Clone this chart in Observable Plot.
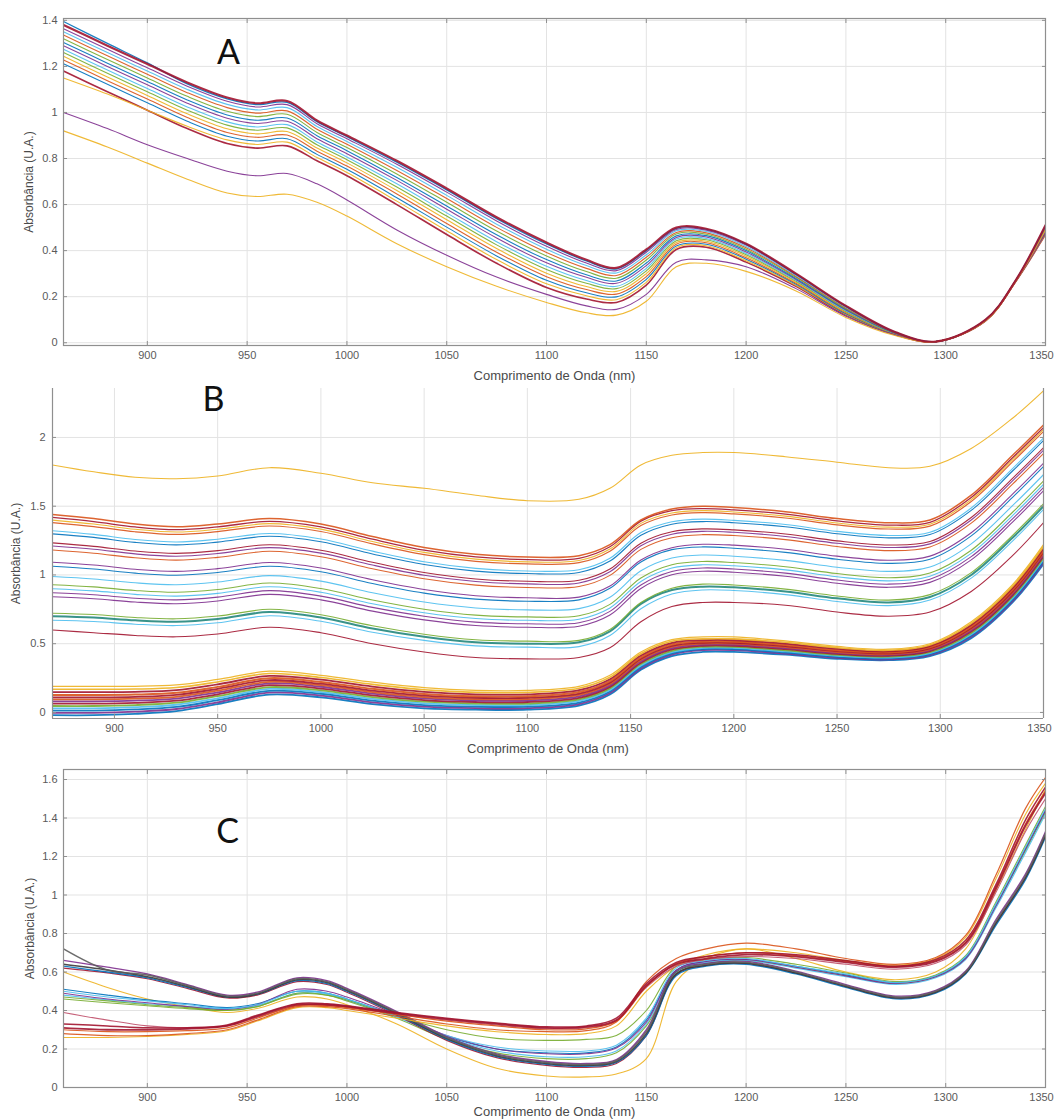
<!DOCTYPE html>
<html><head><meta charset="utf-8">
<script src="https://cdn.jsdelivr.net/npm/d3@7"></script>
<script src="https://cdn.jsdelivr.net/npm/@observablehq/plot@0.6"></script>
<style>
body{margin:0;background:#fff;}
#wrap{position:relative;width:1055px;height:1120px;overflow:hidden;background:#fff;}
</style></head><body><div id="wrap"></div>
<script>
// ---------- shared text / ticks ----------
const xTitle = "Comprimento de Onda (nm)";
const yTitle = "Absorbância (U.A.)";
const xTicks = [900, 950, 1000, 1050, 1100, 1150, 1200, 1250, 1300, 1350];
const yTicksA = [0, 0.2, 0.4, 0.6, 0.8, 1, 1.2, 1.4];
const yTicksB = [0, 0.5, 1, 1.5, 2];
const yTicksC = [0, 0.2, 0.4, 0.6, 0.8, 1, 1.2, 1.4, 1.6];

// ---------- Panel A ----------
const wlA = [858, 880, 900, 920, 940, 955, 970, 985, 1000, 1025, 1050, 1075, 1100, 1120, 1135, 1150, 1165, 1180, 1200, 1225, 1250, 1275, 1295, 1320, 1335, 1350];
const specA = [
  [1.18, 1.09, 1.01, 0.93, 0.865, 0.845, 0.855, 0.79, 0.725, 0.60, 0.47, 0.345, 0.24, 0.19, 0.175, 0.25, 0.405, 0.415, 0.35, 0.245, 0.12, 0.035, 0.004, 0.095, 0.265, 0.47],
  [1.15, 1.08, 1.01, 0.94, 0.881, 0.861, 0.871, 0.804, 0.739, 0.615, 0.486, 0.361, 0.256, 0.204, 0.187, 0.262, 0.413, 0.421, 0.356, 0.249, 0.123, 0.036, 0.004, 0.095, 0.265, 0.473],
  [1.212, 1.122, 1.042, 0.962, 0.897, 0.876, 0.886, 0.818, 0.753, 0.63, 0.502, 0.377, 0.271, 0.217, 0.199, 0.275, 0.42, 0.428, 0.363, 0.254, 0.126, 0.037, 0.004, 0.096, 0.266, 0.476],
  [1.228, 1.138, 1.058, 0.978, 0.913, 0.892, 0.902, 0.832, 0.767, 0.646, 0.518, 0.393, 0.287, 0.231, 0.211, 0.287, 0.428, 0.434, 0.369, 0.258, 0.13, 0.037, 0.004, 0.096, 0.266, 0.48],
  [1.244, 1.154, 1.074, 0.994, 0.929, 0.907, 0.917, 0.846, 0.781, 0.661, 0.534, 0.409, 0.302, 0.244, 0.223, 0.30, 0.435, 0.441, 0.376, 0.263, 0.133, 0.038, 0.005, 0.097, 0.267, 0.483],
  [1.26, 1.17, 1.09, 1.01, 0.945, 0.923, 0.933, 0.86, 0.795, 0.676, 0.55, 0.425, 0.318, 0.258, 0.235, 0.312, 0.443, 0.447, 0.382, 0.267, 0.136, 0.039, 0.005, 0.097, 0.267, 0.486],
  [1.274, 1.184, 1.104, 1.024, 0.959, 0.937, 0.947, 0.872, 0.807, 0.69, 0.564, 0.439, 0.332, 0.27, 0.245, 0.323, 0.45, 0.453, 0.388, 0.271, 0.139, 0.04, 0.005, 0.097, 0.267, 0.489],
  [1.29, 1.20, 1.12, 1.04, 0.975, 0.952, 0.962, 0.886, 0.821, 0.705, 0.58, 0.455, 0.347, 0.284, 0.258, 0.335, 0.457, 0.459, 0.394, 0.275, 0.142, 0.041, 0.005, 0.098, 0.268, 0.492],
  [1.304, 1.214, 1.134, 1.054, 0.989, 0.966, 0.976, 0.899, 0.834, 0.718, 0.594, 0.469, 0.361, 0.295, 0.268, 0.346, 0.464, 0.465, 0.40, 0.279, 0.145, 0.041, 0.005, 0.098, 0.268, 0.495],
  [1.32, 1.23, 1.15, 1.07, 1.005, 0.982, 0.992, 0.913, 0.848, 0.733, 0.61, 0.485, 0.377, 0.309, 0.28, 0.359, 0.472, 0.471, 0.406, 0.284, 0.148, 0.042, 0.005, 0.099, 0.269, 0.498],
  [1.336, 1.246, 1.166, 1.086, 1.021, 0.997, 1.007, 0.927, 0.862, 0.748, 0.626, 0.501, 0.392, 0.323, 0.292, 0.371, 0.479, 0.477, 0.412, 0.288, 0.151, 0.043, 0.005, 0.10, 0.27, 0.501],
  [1.35, 1.26, 1.18, 1.10, 1.035, 1.011, 1.021, 0.939, 0.874, 0.762, 0.64, 0.515, 0.406, 0.335, 0.303, 0.382, 0.486, 0.483, 0.418, 0.292, 0.154, 0.044, 0.005, 0.10, 0.27, 0.504],
  [1.364, 1.274, 1.194, 1.114, 1.049, 1.024, 1.034, 0.951, 0.886, 0.775, 0.654, 0.529, 0.419, 0.346, 0.313, 0.393, 0.492, 0.489, 0.424, 0.296, 0.157, 0.044, 0.005, 0.10, 0.27, 0.507],
  [1.395, 1.30, 1.215, 1.124, 1.059, 1.034, 1.044, 0.96, 0.895, 0.784, 0.664, 0.539, 0.429, 0.355, 0.32, 0.40, 0.497, 0.493, 0.428, 0.298, 0.159, 0.045, 0.005, 0.10, 0.27, 0.509],
  [1.00, 0.93, 0.86, 0.80, 0.745, 0.725, 0.735, 0.69, 0.62, 0.49, 0.38, 0.285, 0.21, 0.16, 0.145, 0.21, 0.35, 0.36, 0.33, 0.235, 0.115, 0.033, 0.004, 0.095, 0.265, 0.48],
  [0.92, 0.85, 0.78, 0.71, 0.65, 0.635, 0.645, 0.61, 0.55, 0.43, 0.33, 0.245, 0.175, 0.13, 0.12, 0.18, 0.33, 0.345, 0.31, 0.225, 0.11, 0.03, 0.004, 0.095, 0.265, 0.49],
  [1.38, 1.29, 1.21, 1.13, 1.065, 1.04, 1.05, 0.965, 0.90, 0.79, 0.67, 0.545, 0.435, 0.36, 0.325, 0.405, 0.50, 0.495, 0.43, 0.30, 0.16, 0.045, 0.005, 0.10, 0.27, 0.51]
];
const colorsA = ["#A2142F", "#EDB120", "#0072BD", "#D95319", "#EDB120", "#77AC30", "#4DBEEE", "#7E2F8E", "#0072BD", "#77AC30", "#D95319", "#4DBEEE", "#7E2F8E", "#0072BD", "#7E2F8E", "#EDB120", "#A2142F"];
const widthsA = [1.6, 1.1, 1.1, 1.1, 1.1, 1.1, 1.1, 1.1, 1.1, 1.1, 1.1, 1.1, 1.1, 1.3, 1.1, 1.1, 2.2];

// ---------- Panel B ----------
const wlB = [870, 890, 910, 930, 950, 975, 1000, 1025, 1050, 1075, 1100, 1125, 1140, 1155, 1170, 1185, 1200, 1225, 1250, 1275, 1295, 1315, 1335, 1350];
const specB = [
  [1.80, 1.75, 1.71, 1.70, 1.72, 1.78, 1.74, 1.67, 1.63, 1.58, 1.54, 1.55, 1.63, 1.80, 1.87, 1.89, 1.89, 1.86, 1.82, 1.78, 1.79, 1.92, 2.14, 2.34],
  [0.60, 0.58, 0.56, 0.55, 0.57, 0.62, 0.58, 0.50, 0.44, 0.40, 0.39, 0.40, 0.47, 0.66, 0.77, 0.80, 0.80, 0.78, 0.73, 0.70, 0.73, 0.88, 1.14, 1.38],
  [0.67, 0.661, 0.642, 0.632, 0.652, 0.703, 0.663, 0.583, 0.524, 0.484, 0.475, 0.479, 0.559, 0.754, 0.861, 0.891, 0.887, 0.857, 0.807, 0.777, 0.818, 0.977, 1.246, 1.476],
  [0.70, 0.69, 0.67, 0.66, 0.68, 0.73, 0.69, 0.61, 0.55, 0.51, 0.50, 0.51, 0.59, 0.79, 0.89, 0.915, 0.91, 0.88, 0.83, 0.80, 0.84, 1.00, 1.27, 1.50],
  [0.722, 0.712, 0.691, 0.681, 0.701, 0.75, 0.71, 0.63, 0.569, 0.529, 0.519, 0.524, 0.604, 0.799, 0.903, 0.933, 0.927, 0.897, 0.847, 0.817, 0.857, 1.017, 1.288, 1.518],
  [0.841, 0.827, 0.803, 0.791, 0.811, 0.859, 0.819, 0.737, 0.673, 0.632, 0.62, 0.627, 0.708, 0.902, 1.001, 1.027, 1.02, 0.99, 0.94, 0.91, 0.946, 1.11, 1.384, 1.612],
  [0.87, 0.856, 0.831, 0.819, 0.839, 0.886, 0.846, 0.764, 0.70, 0.657, 0.645, 0.652, 0.735, 0.927, 1.025, 1.051, 1.043, 1.013, 0.963, 0.933, 0.969, 1.133, 1.408, 1.636],
  [0.90, 0.884, 0.859, 0.846, 0.866, 0.914, 0.874, 0.791, 0.725, 0.683, 0.67, 0.678, 0.76, 0.953, 1.05, 1.074, 1.067, 1.037, 0.987, 0.957, 0.991, 1.157, 1.432, 1.659],
  [0.929, 0.913, 0.887, 0.874, 0.894, 0.941, 0.901, 0.818, 0.751, 0.708, 0.695, 0.703, 0.786, 0.978, 1.074, 1.098, 1.09, 1.06, 1.01, 0.98, 1.014, 1.18, 1.456, 1.683],
  [0.989, 0.971, 0.943, 0.929, 0.949, 0.995, 0.955, 0.871, 0.803, 0.76, 0.746, 0.755, 0.838, 1.03, 1.123, 1.145, 1.136, 1.106, 1.056, 1.026, 1.058, 1.226, 1.504, 1.73],
  [1.063, 1.043, 1.013, 0.998, 1.018, 1.063, 1.023, 0.938, 0.868, 0.824, 0.809, 0.819, 0.903, 1.094, 1.184, 1.204, 1.194, 1.164, 1.114, 1.084, 1.114, 1.284, 1.564, 1.789],
  [1.092, 1.072, 1.041, 1.026, 1.046, 1.09, 1.05, 0.965, 0.894, 0.849, 0.834, 0.839, 0.919, 1.109, 1.198, 1.223, 1.217, 1.187, 1.137, 1.107, 1.137, 1.307, 1.588, 1.813],
  [1.181, 1.158, 1.125, 1.108, 1.128, 1.172, 1.132, 1.045, 0.972, 0.926, 0.909, 0.916, 0.997, 1.186, 1.271, 1.293, 1.287, 1.257, 1.207, 1.177, 1.204, 1.377, 1.66, 1.883],
  [1.211, 1.187, 1.153, 1.136, 1.156, 1.199, 1.159, 1.072, 0.998, 0.952, 0.935, 0.942, 1.023, 1.212, 1.296, 1.317, 1.31, 1.28, 1.23, 1.20, 1.226, 1.40, 1.684, 1.907],
  [1.233, 1.208, 1.174, 1.157, 1.177, 1.22, 1.18, 1.092, 1.018, 0.971, 0.954, 0.961, 1.043, 1.231, 1.314, 1.335, 1.328, 1.298, 1.248, 1.218, 1.243, 1.418, 1.702, 1.925],
  [1.299, 1.273, 1.237, 1.219, 1.239, 1.281, 1.241, 1.153, 1.076, 1.028, 1.01, 1.018, 1.101, 1.288, 1.369, 1.388, 1.38, 1.35, 1.30, 1.27, 1.294, 1.47, 1.756, 1.978],
  [1.322, 1.295, 1.258, 1.24, 1.26, 1.301, 1.261, 1.173, 1.096, 1.048, 1.029, 1.038, 1.121, 1.308, 1.387, 1.406, 1.397, 1.367, 1.317, 1.287, 1.31, 1.487, 1.774, 1.996],
  [1.381, 1.352, 1.314, 1.295, 1.315, 1.356, 1.316, 1.226, 1.148, 1.099, 1.08, 1.089, 1.173, 1.359, 1.436, 1.453, 1.444, 1.414, 1.364, 1.334, 1.355, 1.534, 1.822, 2.043],
  [1.399, 1.37, 1.332, 1.312, 1.332, 1.373, 1.333, 1.243, 1.164, 1.115, 1.095, 1.105, 1.189, 1.375, 1.451, 1.468, 1.458, 1.428, 1.378, 1.348, 1.369, 1.548, 1.837, 2.058],
  [1.418, 1.388, 1.349, 1.329, 1.349, 1.39, 1.35, 1.26, 1.18, 1.131, 1.111, 1.121, 1.205, 1.391, 1.467, 1.482, 1.473, 1.443, 1.393, 1.363, 1.383, 1.563, 1.852, 2.072],
  [1.44, 1.41, 1.37, 1.35, 1.37, 1.41, 1.37, 1.28, 1.20, 1.15, 1.13, 1.14, 1.22, 1.40, 1.48, 1.50, 1.49, 1.46, 1.41, 1.38, 1.40, 1.58, 1.87, 2.09],
  [-0.02, -0.02, -0.01, 0.01, 0.06, 0.13, 0.11, 0.06, 0.03, 0.02, 0.02, 0.05, 0.13, 0.31, 0.41, 0.44, 0.44, 0.42, 0.39, 0.38, 0.41, 0.54, 0.80, 1.08],
  [-0.003, -0.003, 0.006, 0.025, 0.074, 0.144, 0.123, 0.073, 0.042, 0.031, 0.031, 0.061, 0.141, 0.32, 0.42, 0.453, 0.453, 0.428, 0.397, 0.386, 0.417, 0.55, 0.81, 1.091],
  [0.014, 0.014, 0.022, 0.04, 0.089, 0.157, 0.136, 0.086, 0.054, 0.042, 0.042, 0.072, 0.152, 0.331, 0.429, 0.461, 0.461, 0.436, 0.404, 0.393, 0.424, 0.559, 0.821, 1.102],
  [0.03, 0.03, 0.038, 0.056, 0.103, 0.171, 0.148, 0.098, 0.066, 0.054, 0.054, 0.084, 0.164, 0.341, 0.439, 0.469, 0.469, 0.444, 0.412, 0.399, 0.432, 0.569, 0.831, 1.114],
  [0.047, 0.047, 0.054, 0.071, 0.118, 0.184, 0.161, 0.111, 0.078, 0.065, 0.065, 0.095, 0.175, 0.352, 0.448, 0.477, 0.477, 0.452, 0.419, 0.406, 0.439, 0.578, 0.842, 1.125],
  [0.064, 0.064, 0.07, 0.086, 0.132, 0.198, 0.174, 0.124, 0.09, 0.076, 0.076, 0.106, 0.186, 0.362, 0.458, 0.485, 0.485, 0.46, 0.426, 0.412, 0.446, 0.588, 0.852, 1.136],
  [0.081, 0.081, 0.086, 0.101, 0.146, 0.212, 0.187, 0.137, 0.102, 0.087, 0.087, 0.117, 0.197, 0.372, 0.468, 0.493, 0.493, 0.468, 0.433, 0.418, 0.453, 0.598, 0.862, 1.147],
  [0.095, 0.095, 0.10, 0.114, 0.159, 0.223, 0.198, 0.148, 0.112, 0.097, 0.097, 0.127, 0.207, 0.381, 0.476, 0.50, 0.50, 0.475, 0.439, 0.424, 0.459, 0.606, 0.871, 1.157],
  [0.11, 0.11, 0.114, 0.128, 0.172, 0.235, 0.209, 0.159, 0.123, 0.107, 0.107, 0.137, 0.217, 0.391, 0.484, 0.507, 0.507, 0.482, 0.446, 0.43, 0.466, 0.614, 0.881, 1.167],
  [0.127, 0.127, 0.13, 0.143, 0.186, 0.249, 0.222, 0.172, 0.135, 0.118, 0.118, 0.148, 0.228, 0.401, 0.494, 0.515, 0.515, 0.49, 0.453, 0.436, 0.473, 0.624, 0.891, 1.178],
  [0.148, 0.148, 0.15, 0.162, 0.204, 0.266, 0.238, 0.188, 0.15, 0.132, 0.132, 0.162, 0.242, 0.414, 0.506, 0.525, 0.525, 0.50, 0.462, 0.444, 0.482, 0.636, 0.904, 1.192],
  [0.169, 0.169, 0.17, 0.181, 0.222, 0.283, 0.254, 0.204, 0.165, 0.146, 0.146, 0.176, 0.256, 0.427, 0.518, 0.535, 0.535, 0.51, 0.471, 0.452, 0.491, 0.648, 0.917, 1.206],
  [0.19, 0.19, 0.19, 0.20, 0.24, 0.30, 0.27, 0.22, 0.18, 0.16, 0.16, 0.19, 0.27, 0.44, 0.53, 0.55, 0.55, 0.52, 0.48, 0.46, 0.50, 0.66, 0.93, 1.22]
];
const colorsB = ["#EDB120", "#A2142F", "#4DBEEE", "#23877d", "#77AC30", "#7E2F8E", "#7E2F8E", "#4DBEEE", "#77AC30", "#4DBEEE", "#0072BD", "#7E2F8E", "#D95319", "#7E2F8E", "#A2142F", "#0072BD", "#4DBEEE", "#D95319", "#EDB120", "#A2142F", "#D95319",
  "#0072BD", "#7E2F8E", "#0072BD", "#4DBEEE", "#77AC30", "#A2142F", "#7E2F8E", "#D95319", "#A2142F", "#D95319", "#A2142F", "#EDB120", "#EDB120"];
const widthsB = [1.1, 1.1, 1.1, 2.0, 1.1, 1.1, 1.1, 1.1, 1.1, 1.1, 1.1, 1.1, 1.1, 1.1, 1.1, 1.1, 1.1, 1.2, 1.1, 1.3, 1.5,
  1.8, 1.8, 1.8, 1.8, 1.8, 1.8, 1.8, 1.8, 1.8, 2.0, 1.8, 1.6, 1.2];

// ---------- Panel C ----------
const wlC = [858, 880, 900, 920, 940, 955, 975, 990, 1000, 1025, 1050, 1075, 1100, 1120, 1135, 1150, 1165, 1180, 1200, 1225, 1250, 1275, 1295, 1310, 1325, 1340, 1350];
const specC = [
  [0.60, 0.52, 0.46, 0.42, 0.39, 0.41, 0.47, 0.46, 0.43, 0.33, 0.20, 0.10, 0.06, 0.055, 0.07, 0.15, 0.55, 0.67, 0.72, 0.67, 0.60, 0.56, 0.60, 0.72, 1.02, 1.34, 1.55],
  [0.46, 0.44, 0.425, 0.41, 0.40, 0.42, 0.485, 0.48, 0.45, 0.36, 0.25, 0.18, 0.15, 0.15, 0.18, 0.32, 0.59, 0.645, 0.66, 0.625, 0.58, 0.54, 0.575, 0.67, 0.94, 1.23, 1.43],
  [0.51, 0.48, 0.455, 0.435, 0.415, 0.435, 0.50, 0.49, 0.46, 0.37, 0.265, 0.20, 0.18, 0.18, 0.21, 0.35, 0.61, 0.655, 0.665, 0.63, 0.585, 0.545, 0.58, 0.675, 0.945, 1.24, 1.44],
  [0.48, 0.455, 0.435, 0.42, 0.41, 0.425, 0.49, 0.485, 0.455, 0.365, 0.26, 0.19, 0.16, 0.16, 0.19, 0.33, 0.60, 0.65, 0.66, 0.62, 0.575, 0.535, 0.57, 0.665, 0.93, 1.22, 1.42],
  [0.49, 0.46, 0.44, 0.42, 0.405, 0.43, 0.51, 0.50, 0.47, 0.375, 0.27, 0.20, 0.175, 0.175, 0.205, 0.34, 0.61, 0.655, 0.665, 0.625, 0.58, 0.54, 0.575, 0.67, 0.94, 1.24, 1.44],
  [0.47, 0.45, 0.43, 0.415, 0.40, 0.42, 0.49, 0.48, 0.455, 0.37, 0.30, 0.255, 0.245, 0.25, 0.27, 0.40, 0.63, 0.665, 0.675, 0.64, 0.595, 0.55, 0.585, 0.685, 0.96, 1.26, 1.46],
  [0.50, 0.47, 0.45, 0.43, 0.41, 0.43, 0.50, 0.49, 0.46, 0.37, 0.27, 0.21, 0.19, 0.19, 0.22, 0.36, 0.62, 0.66, 0.67, 0.63, 0.59, 0.545, 0.58, 0.68, 0.95, 1.25, 1.45],
  [0.62, 0.595, 0.565, 0.515, 0.465, 0.48, 0.55, 0.535, 0.495, 0.375, 0.245, 0.155, 0.115, 0.105, 0.125, 0.27, 0.585, 0.635, 0.645, 0.595, 0.525, 0.465, 0.495, 0.595, 0.85, 1.09, 1.31],
  [0.63, 0.60, 0.57, 0.52, 0.47, 0.485, 0.555, 0.54, 0.50, 0.38, 0.25, 0.16, 0.12, 0.11, 0.13, 0.27, 0.58, 0.63, 0.64, 0.59, 0.52, 0.46, 0.49, 0.59, 0.84, 1.08, 1.30],
  [0.66, 0.625, 0.59, 0.535, 0.48, 0.495, 0.57, 0.555, 0.515, 0.395, 0.265, 0.175, 0.135, 0.125, 0.145, 0.30, 0.605, 0.645, 0.655, 0.605, 0.535, 0.475, 0.505, 0.605, 0.87, 1.11, 1.33],
  [0.64, 0.61, 0.575, 0.525, 0.47, 0.485, 0.56, 0.545, 0.505, 0.385, 0.255, 0.165, 0.125, 0.115, 0.135, 0.28, 0.59, 0.635, 0.645, 0.595, 0.525, 0.465, 0.495, 0.595, 0.85, 1.09, 1.31],
  [0.72, 0.61, 0.585, 0.53, 0.475, 0.49, 0.565, 0.55, 0.51, 0.39, 0.26, 0.17, 0.13, 0.12, 0.14, 0.29, 0.60, 0.64, 0.65, 0.60, 0.53, 0.47, 0.50, 0.60, 0.86, 1.10, 1.32],
  [0.26, 0.26, 0.265, 0.275, 0.295, 0.345, 0.415, 0.415, 0.40, 0.36, 0.32, 0.29, 0.275, 0.28, 0.32, 0.50, 0.63, 0.69, 0.72, 0.70, 0.66, 0.635, 0.67, 0.78, 1.08, 1.42, 1.58],
  [0.39, 0.35, 0.32, 0.31, 0.32, 0.365, 0.425, 0.43, 0.42, 0.38, 0.35, 0.325, 0.305, 0.31, 0.345, 0.52, 0.63, 0.665, 0.68, 0.67, 0.64, 0.615, 0.645, 0.74, 1.01, 1.33, 1.50],
  [0.30, 0.29, 0.29, 0.295, 0.31, 0.36, 0.425, 0.425, 0.415, 0.38, 0.345, 0.32, 0.30, 0.305, 0.345, 0.525, 0.645, 0.68, 0.70, 0.685, 0.655, 0.63, 0.66, 0.755, 1.04, 1.37, 1.54],
  [0.28, 0.27, 0.27, 0.28, 0.30, 0.35, 0.42, 0.42, 0.41, 0.37, 0.33, 0.30, 0.29, 0.295, 0.34, 0.55, 0.67, 0.72, 0.75, 0.72, 0.67, 0.64, 0.675, 0.79, 1.10, 1.45, 1.61],
  [0.33, 0.32, 0.31, 0.31, 0.325, 0.375, 0.435, 0.435, 0.425, 0.39, 0.36, 0.335, 0.315, 0.32, 0.36, 0.54, 0.65, 0.68, 0.70, 0.69, 0.66, 0.63, 0.665, 0.765, 1.05, 1.39, 1.56],
  [0.31, 0.30, 0.30, 0.305, 0.32, 0.37, 0.43, 0.43, 0.42, 0.385, 0.355, 0.33, 0.31, 0.315, 0.35, 0.53, 0.64, 0.67, 0.69, 0.68, 0.65, 0.625, 0.655, 0.75, 1.03, 1.36, 1.53]
];
const colorsC = ["#EDB120", "#77AC30", "#0072BD", "#4DBEEE", "#7E2F8E", "#77AC30", "#4DBEEE", "#A2142F", "#0072BD", "#7E2F8E", "#3a3a3a", "#5c5c5c", "#EDB120", "#C0506A", "#D95319", "#D95319", "#A2142F", "#A2142F"];
const widthsC = [1.1, 1.1, 1.1, 1.1, 1.1, 1.1, 1.1, 1.2, 1.3, 1.3, 1.5, 1.5, 1.1, 1.1, 1.2, 1.2, 1.5, 1.8];

// ---------- drawing ----------
const FONT = '"Liberation Sans", Arial, Helvetica, sans-serif';
const AXIS = "#8f8f8f";
const GRID = "#e3e3e3";
const TICKTEXT = "#5a5a5a";
const lastTick = xTicks[xTicks.length - 1];

function panel(cfg) {
  const marks = [
    Plot.gridX(xTicks, {stroke: GRID, strokeOpacity: 1}),
    Plot.gridY(cfg.yTicks, {stroke: GRID, strokeOpacity: 1}),
    ...cfg.series.map((s, i) => Plot.line(s, {
      x: (d, j) => cfg.wl[j], y: d => d,
      stroke: cfg.colors[i], strokeWidth: cfg.widths[i], strokeOpacity: 0.9,
      curve: "catmull-rom", clip: true
    })),
    Plot.axisX({ticks: xTicks, tickSize: -4, tickPadding: 10, tickFormat: d => d === lastTick ? "" : String(d), label: null, stroke: AXIS, fill: TICKTEXT}),
    Plot.axisX({ticks: [lastTick], tickSize: 0, tickPadding: 6, dx: -4, tickFormat: d => String(d), label: null, stroke: "none", fill: TICKTEXT}),
    Plot.axisY({ticks: cfg.yTicks, tickSize: -4, tickPadding: cfg.yPad, tickFormat: d => String(d), label: null, stroke: AXIS, fill: TICKTEXT}),
    Plot.axisY({anchor: "right", ticks: cfg.yTicks, tickSize: -4, tickFormat: () => "", label: null, stroke: AXIS})
  ];
  if (cfg.box) {
    marks.push(Plot.axisX({anchor: "top", ticks: xTicks, tickSize: -4, tickFormat: () => "", label: null, stroke: AXIS}));
    marks.push(Plot.frame({stroke: AXIS, strokeWidth: 1.2}));
  } else {
    marks.push(Plot.ruleY([cfg.yDomain[0]], {stroke: AXIS, strokeWidth: 1.2}));
    marks.push(Plot.ruleX(cfg.xDomain, {stroke: AXIS, strokeWidth: 1.2}));
  }
  const mid = {textAnchor: "middle", lineAnchor: "middle"};
  marks.push(Plot.text([xTitle], {frameAnchor: "bottom", dy: cfg.xLabDy, text: d => d, fontSize: 13, fill: "#4a4a4a", ...mid}));
  marks.push(Plot.text([yTitle], {frameAnchor: "left", dx: cfg.yLabDx, rotate: -90, text: d => d, fontSize: 12, fill: "#4a4a4a", ...mid}));
  marks.push(Plot.text([cfg.letter], {frameAnchor: "top-left", dx: cfg.letterAt[0], dy: cfg.letterAt[1], text: d => d,
    fontSize: 34, fontFamily: "Lato, 'Open Sans', sans-serif", fill: "#111", ...mid}));
  const svg = Plot.plot({
    width: 1055, height: cfg.height,
    marginTop: cfg.m[0], marginRight: cfg.m[1], marginBottom: cfg.m[2], marginLeft: cfg.m[3],
    x: {domain: cfg.xDomain},
    y: {domain: cfg.yDomain},
    style: {fontFamily: FONT, fontSize: "11px", background: "transparent", overflow: "visible"},
    marks
  });
  svg.style.position = "absolute";
  svg.style.left = "0px";
  svg.style.top = cfg.top + "px";
  document.getElementById("wrap").appendChild(svg);
}

panel({series: specA, wl: wlA, colors: colorsA, widths: widthsA, xDomain: [858, 1350], yDomain: [-0.012, 1.408], yTicks: yTicksA,
  top: 0, height: 385, m: [18, 10, 40, 63], box: true, yPad: 10, xLabDy: 30, yLabDx: -34, letter: "A", letterAt: [165, 35]});
panel({series: specB, wl: wlB, colors: colorsB, widths: widthsB, xDomain: [870, 1350], yDomain: [-0.044, 2.356], yTicks: yTicksB,
  top: 385, height: 375, m: [3, 12, 42, 52], box: false, yPad: 11, xLabDy: 30, yLabDx: -36, letter: "B", letterAt: [161, 12]});
panel({series: specC, wl: wlC, colors: colorsC, widths: widthsC, xDomain: [858, 1350], yDomain: [0, 1.652], yTicks: yTicksC,
  top: 760, height: 360, m: [9, 10, 33, 63], box: true, yPad: 10, xLabDy: 24, yLabDx: -33, letter: "C", letterAt: [164, 63]});
</script>
</body></html>
